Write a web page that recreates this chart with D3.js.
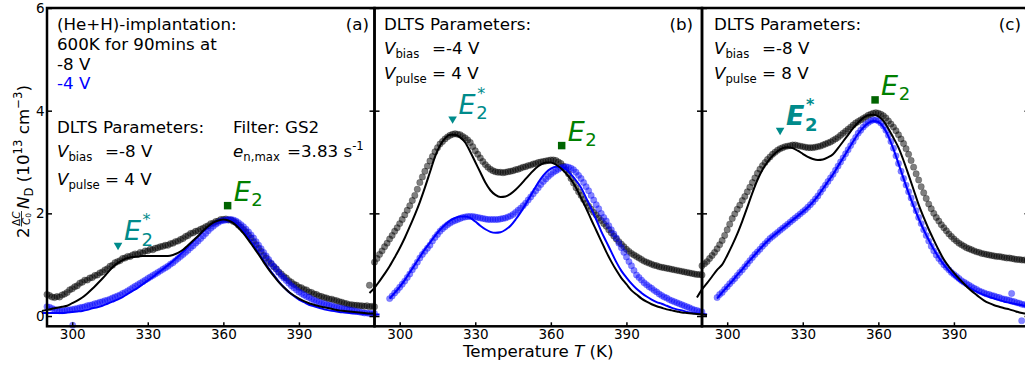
<!DOCTYPE html>
<html>
<head>
<meta charset="utf-8">
<script src="https://cdn.jsdelivr.net/npm/d3@7"></script>
<style>
  body { margin: 0; background: #fff; overflow: hidden; }
  svg { display: block; font-family: "DejaVu Sans", sans-serif; }
</style>
</head>
<body>
<svg id="chart" width="1025" height="365"></svg>
<script>
// ---- data ----
const panelLabels = ['(a)', '(b)', '(c)'];
const biasVolts = ['-8', '-4', '-8'];
const pulseVolts = ['4', '4', '8'];
const xTicks = [300, 330, 360, 390];
const yTicks = [0, 2, 4, 6];

const dotTemps = [
  290,291,292,293,294,295,296,297,298,299,
  300,301,302,303,304,305,306,307,308,309,
  310,311,312,313,314,315,316,317,318,319,
  320,321,322,323,324,325,326,327,328,329,
  330,331,332,333,334,335,336,337,338,339,
  340,341,342,343,344,345,346,347,348,349,
  350,351,352,353,354,355,356,357,358,359,
  360,361,362,363,364,365,366,367,368,369,
  370,371,372,373,374,375,376,377,378,379,
  380,381,382,383,384,385,386,387,388,389,
  390,391,392,393,394,395,396,397,398,399,
  400,401,402,403,404,405,406,407,408,409,
  410,411,412,413,414,415,416,417,418,419,420
];

const blackDotsA = [
  0.42,0.40,0.37,0.36,0.38,0.37,0.41,0.43,0.46,0.51,
  0.53,0.57,0.59,0.64,0.66,0.70,0.70,0.74,0.75,0.79,
  0.80,0.84,0.86,0.90,0.92,0.97,0.99,1.04,1.06,1.08,
  1.12,1.13,1.16,1.16,1.19,1.21,1.20,1.24,1.23,1.27,
  1.27,1.30,1.29,1.32,1.33,1.35,1.36,1.38,1.38,1.41,
  1.42,1.45,1.46,1.49,1.51,1.55,1.57,1.61,1.62,1.65,
  1.66,1.69,1.71,1.74,1.76,1.80,1.81,1.84,1.85,1.88,
  1.88,1.89,1.87,1.87,1.84,1.82,1.77,1.73,1.68,1.64,
  1.57,1.52,1.45,1.39,1.32,1.26,1.18,1.13,1.06,1.02,
  0.96,0.92,0.86,0.82,0.77,0.74,0.69,0.66,0.62,0.60,
  0.56,0.55,0.52,0.51,0.47,0.46,0.43,0.42,0.39,0.38,
  0.36,0.35,0.33,0.33,0.31,0.30,0.28,0.27,0.25,0.24,
  0.22,0.22,0.21,0.21,0.20,0.20,0.19,0.20,0.18,0.19,0.18
];
const blueDotsA = [
  0.18,0.17,0.15,0.13,0.11,0.10,0.10,0.11,0.12,0.12,
  0.13,0.14,0.15,0.16,0.17,0.18,0.20,0.21,0.22,0.24,
  0.25,0.27,0.28,0.30,0.31,0.33,0.35,0.37,0.39,0.41,
  0.44,0.46,0.49,0.52,0.55,0.58,0.61,0.64,0.67,0.70,
  0.73,0.76,0.79,0.82,0.85,0.88,0.91,0.94,0.97,1.01,
  1.04,1.08,1.12,1.16,1.20,1.24,1.28,1.33,1.37,1.42,
  1.46,1.51,1.56,1.61,1.66,1.71,1.75,1.79,1.82,1.85,
  1.86,1.87,1.88,1.88,1.87,1.85,1.82,1.78,1.74,1.69,
  1.64,1.58,1.52,1.45,1.38,1.31,1.24,1.17,1.10,1.03,
  0.97,0.91,0.85,0.79,0.74,0.69,0.64,0.59,0.55,0.51,
  0.47,0.44,0.41,0.38,0.36,0.33,0.31,0.29,0.27,0.25,
  0.24,0.22,0.21,0.20,0.18,0.17,0.16,0.15,0.14,0.13,
  0.12,0.11,0.10,0.09,0.08,0.07,0.06,0.06,0.05,0.05,0.05
];
const blackDotsB = [
  1.05,1.12,1.20,1.27,1.35,1.42,1.50,1.57,1.65,1.72,
  1.80,1.88,1.97,2.06,2.15,2.25,2.35,2.47,2.60,2.71,
  2.82,2.92,3.02,3.11,3.20,3.28,3.35,3.40,3.45,3.49,
  3.52,3.54,3.55,3.54,3.53,3.50,3.47,3.43,3.38,3.30,
  3.22,3.15,3.08,3.01,2.95,2.90,2.86,2.83,2.81,2.80,
  2.80,2.79,2.80,2.81,2.82,2.83,2.85,2.86,2.88,2.90,
  2.91,2.93,2.94,2.96,2.97,2.99,3.00,3.01,3.02,3.03,
  3.04,3.04,3.03,3.00,2.97,2.92,2.85,2.77,2.68,2.59,
  2.50,2.42,2.35,2.27,2.20,2.14,2.08,2.02,1.97,1.91,
  1.86,1.80,1.75,1.68,1.62,1.56,1.50,1.45,1.40,1.35,
  1.30,1.26,1.22,1.19,1.16,1.13,1.10,1.07,1.05,1.03,
  1.01,0.99,0.98,0.96,0.95,0.94,0.93,0.92,0.91,0.90,
  0.89,0.88,0.87,0.86,0.85,0.84,0.83,0.82,0.81,0.81,0.80
];
const blueDotsB = [
  null,null,null,null,null,null,0.34,0.39,0.45,0.50,
  0.56,0.62,0.68,0.75,0.82,0.90,0.97,1.05,1.13,1.20,
  1.26,1.32,1.38,1.46,1.53,1.59,1.65,1.70,1.74,1.78,
  1.81,1.84,1.86,1.88,1.90,1.92,1.93,1.94,1.94,1.94,
  1.93,1.92,1.91,1.90,1.89,1.88,1.88,1.88,1.88,1.88,
  1.89,1.90,1.91,1.93,1.95,1.98,2.02,2.06,2.10,2.15,
  2.20,2.26,2.32,2.38,2.44,2.50,2.56,2.62,2.67,2.72,
  2.76,2.80,2.83,2.86,2.89,2.90,2.91,2.90,2.88,2.85,
  2.80,2.74,2.68,2.60,2.52,2.44,2.35,2.26,2.17,2.09,
  2.00,1.92,1.85,1.76,1.68,1.60,1.52,1.42,1.33,1.24,
  1.15,1.06,0.98,0.89,0.80,0.75,0.70,0.65,0.61,0.57,
  0.54,0.50,0.47,0.43,0.40,0.37,0.35,0.32,0.30,0.28,
  0.26,0.24,0.22,0.20,0.18,0.16,0.14,0.12,0.11,0.09,0.08
];
const blackDotsC = [
  0.98,1.02,1.06,1.12,1.18,1.24,1.31,1.39,1.47,1.57,
  1.68,1.79,1.90,1.99,2.08,2.16,2.25,2.33,2.42,2.51,
  2.60,2.69,2.78,2.86,2.93,2.99,3.05,3.10,3.15,3.19,
  3.23,3.26,3.28,3.30,3.31,3.32,3.33,3.33,3.32,3.31,
  3.30,3.29,3.28,3.28,3.28,3.29,3.30,3.31,3.33,3.35,
  3.37,3.39,3.42,3.45,3.48,3.52,3.56,3.60,3.64,3.68,
  3.72,3.76,3.79,3.82,3.85,3.88,3.91,3.93,3.95,3.96,
  3.95,3.93,3.90,3.86,3.80,3.74,3.68,3.61,3.53,3.45,
  3.36,3.26,3.15,3.03,2.90,2.77,2.65,2.52,2.40,2.29,
  2.18,2.09,2.00,1.92,1.85,1.78,1.72,1.66,1.60,1.55,
  1.50,1.46,1.42,1.39,1.36,1.33,1.31,1.29,1.27,1.25,
  1.24,1.22,1.21,1.20,1.19,1.18,1.17,1.16,1.16,1.15,
  1.14,1.13,1.13,1.12,1.11,1.10,1.10,1.09,1.09,1.08,1.08
];
const blueDotsC = [
  null,null,null,null,null,null,0.36,0.42,0.46,0.52,
  0.57,0.63,0.68,0.73,0.79,0.85,0.90,0.96,1.02,1.08,
  1.14,1.20,1.25,1.30,1.36,1.41,1.46,1.51,1.55,1.59,
  1.63,1.67,1.71,1.75,1.79,1.83,1.87,1.91,1.95,1.99,
  2.03,2.07,2.12,2.17,2.22,2.28,2.34,2.41,2.48,2.55,
  2.62,2.69,2.76,2.84,2.92,3.00,3.08,3.16,3.24,3.32,
  3.40,3.48,3.56,3.62,3.68,3.73,3.77,3.80,3.82,3.82,
  3.80,3.76,3.70,3.62,3.52,3.40,3.27,3.12,2.97,2.82,
  2.68,2.55,2.42,2.30,2.18,2.05,1.92,1.80,1.68,1.57,
  1.46,1.36,1.27,1.19,1.12,1.06,1.00,0.95,0.90,0.85,
  0.81,0.77,0.73,0.69,0.66,0.63,0.60,0.57,0.54,0.52,
  0.49,0.47,0.45,0.43,0.42,0.40,0.39,0.37,0.36,0.34,
  0.33,0.32,0.31,0.29,0.28,0.26,0.25,0.23,0.22,0.21,0.20
];

// a few stray points
const blueStrayPanel = [0, 2, 2];
const blueStrayT = [300.2, 412.9, 416.9];
const blueStrayV = [-0.18, 0.44, -0.09];
const blackStrayPanel = [0];
const blackStrayT = [418.0];
const blackStrayV = [0.60];

// fitted curves
const fitTemps = [
  288,290,292,294,296,298,300,302,304,306,
  308,310,312,314,316,318,320,322,324,326,
  328,330,332,334,336,338,340,342,344,346,
  348,350,352,354,356,358,360,362,364,366,
  368,370,372,374,376,378,380,382,384,386,
  388,390,392,394,396,398,400,402,404,406,
  408,410,412,414,416,418,420,422
];
const blackFitA = [
  0.10,0.12,0.14,0.16,0.18,0.20,0.25,0.30,0.36,0.44,
  0.53,0.63,0.73,0.84,0.95,1.03,1.09,1.13,1.15,1.16,
  1.17,1.17,1.17,1.17,1.17,1.17,1.19,1.23,1.29,1.38,
  1.47,1.56,1.66,1.75,1.82,1.86,1.88,1.86,1.81,1.72,
  1.61,1.48,1.34,1.20,1.05,0.91,0.78,0.66,0.56,0.47,
  0.40,0.34,0.29,0.25,0.22,0.19,0.17,0.15,0.13,0.11,
  0.10,0.09,0.08,0.07,0.06,0.05,0.05,null
];
const blueFitA = [
  0.06,0.06,0.06,0.06,0.06,0.07,0.08,0.09,0.10,0.12,
  0.15,0.17,0.20,0.24,0.28,0.32,0.37,0.43,0.49,0.55,
  0.62,0.69,0.76,0.84,0.91,0.99,1.07,1.16,1.25,1.35,
  1.45,1.55,1.65,1.74,1.81,1.86,1.88,1.87,1.83,1.75,
  1.65,1.52,1.38,1.23,1.08,0.93,0.80,0.67,0.56,0.47,
  0.39,0.32,0.27,0.22,0.19,0.16,0.13,0.11,0.10,0.08,
  0.07,0.06,0.05,0.05,0.04,0.04,0.03,0.03
];
const blackFitB = [
  0.45,0.55,0.68,0.82,0.97,1.14,1.32,1.52,1.74,1.97,
  2.22,2.50,2.80,3.10,3.32,3.46,3.53,3.53,3.48,3.38,
  3.20,3.00,2.80,2.60,2.45,2.36,2.32,2.33,2.38,2.46,
  2.56,2.67,2.78,2.88,2.95,2.99,2.99,2.95,2.88,2.78,
  2.66,2.50,2.30,2.10,1.88,1.67,1.46,1.25,1.06,0.89,
  0.74,0.62,0.50,0.42,0.34,0.28,0.23,0.19,0.16,0.13,
  0.11,0.09,0.07,0.06,0.05,0.04,0.03,0.02
];
const blueFitB = [
  null,null,null,null,0.34,0.45,0.57,0.70,0.85,1.00,
  1.15,1.30,1.43,1.56,1.68,1.78,1.86,1.91,1.94,1.94,
  1.91,1.84,1.76,1.69,1.64,1.62,1.63,1.68,1.76,1.88,
  2.02,2.18,2.35,2.52,2.67,2.79,2.87,2.91,2.91,2.86,
  2.76,2.64,2.50,2.30,2.10,1.88,1.65,1.45,1.25,1.05,
  0.88,0.75,0.63,0.53,0.45,0.38,0.32,0.27,0.24,0.20,
  0.16,0.13,0.11,0.08,0.06,0.05,0.04,0.03
];
const blackFitC = [
  0.36,0.52,0.64,0.77,0.90,1.00,1.18,1.38,1.60,1.85,
  2.12,2.40,2.65,2.85,3.00,3.12,3.21,3.27,3.29,3.27,
  3.22,3.16,3.10,3.06,3.04,3.05,3.09,3.15,3.27,3.40,
  3.53,3.66,3.77,3.86,3.91,3.92,3.89,3.80,3.65,3.47,
  3.28,3.03,2.75,2.46,2.17,1.92,1.69,1.48,1.28,1.10,
  0.96,0.84,0.73,0.63,0.53,0.45,0.37,0.30,0.25,0.21,
  0.18,0.15,0.13,0.10,0.07,0.05,0.04,0.03
];
const blueFitC = [
  null,null,null,null,0.34,0.46,0.57,0.68,0.80,0.91,
  1.03,1.14,1.25,1.36,1.46,1.55,1.63,1.71,1.79,1.87,
  1.95,2.03,2.12,2.22,2.34,2.48,2.62,2.76,2.92,3.08,
  3.24,3.40,3.55,3.67,3.76,3.80,3.78,3.68,3.50,3.25,
  2.97,2.68,2.40,2.14,1.90,1.68,1.48,1.30,1.14,1.00,
  0.88,0.78,0.69,0.62,0.56,0.50,0.45,0.41,0.37,0.34,
  0.31,0.28,0.26,0.24,0.22,0.20,0.19,null
];

// trap level markers
const e2StarT = [318.2, 321.0, 321.0];
const e2StarV = [1.38, 3.84, 3.62];
const e2T = [361.7, 364.3, 358.7];
const e2V = [2.15, 3.32, 4.21];

// ---- layout ----
const svg = d3.select('#chart');
const panelLeft = [47, 374.5, 702];
const panelWidth = 327.5;
const plotTop = 8, plotBottom = 326.3;
const textInset = [10, 9.5, 12];
const tagInset = [5.5, 9, 8.5];

const y = d3.scaleLinear().domain([-0.2, 6]).range([plotBottom, plotTop]);

const panels = [
  { blackDots: blackDotsA, blueDots: blueDotsA, blackFit: blackFitA, blueFit: blueFitA },
  { blackDots: blackDotsB, blueDots: blueDotsB, blackFit: blackFitB, blueFit: blueFitB },
  { blackDots: blackDotsC, blueDots: blueDotsC, blackFit: blackFitC, blueFit: blueFitC }
];

const pairs = (ts, vs) => ts.map((t, i) => ({ t, v: vs[i] })).filter(d => d.v !== null);

const dataLayer = svg.append('g');
const frameLayer = svg.append('g');
const textLayer = svg.append('g');

// E_2 / E_2^* label
function levelLabel(g, px, py, star, bold, color) {
  const ex = px + 6, ey = py - 5;
  const t = g.append('text')
    .attr('x', ex).attr('y', ey)
    .attr('fill', color)
    .attr('font-weight', bold ? 'bold' : 'normal');
  const e = t.append('tspan').attr('font-size', 27).attr('font-style', 'italic').text('E');
  const w = e.node().getComputedTextLength();
  t.append('tspan').attr('font-size', 18).attr('dx', 0.5).attr('dy', 5.5).text('2');
  if (star) {
    g.append('text')
      .attr('x', ex + w + 1.5).attr('y', ey - 15)
      .attr('fill', color)
      .attr('font-size', 16)
      .attr('font-weight', bold ? 'bold' : 'normal')
      .text('*');
  }
}

panels.forEach((p, i) => {
  const x = d3.scaleLinear().domain([290, 420]).range([panelLeft[i], panelLeft[i] + panelWidth]);
  p.x = x;
  const g = dataLayer.append('g');

  // measured points
  g.append('g')
    .selectAll('circle')
    .data(pairs(dotTemps, p.blackDots).concat(
      blackStrayPanel.map((k, j) => k === i ? { t: blackStrayT[j], v: blackStrayV[j] } : null).filter(d => d)))
    .enter()
    .append('circle')
    .attr('cx', d => x(d.t))
    .attr('cy', d => y(d.v))
    .attr('r', 3.2)
    .attr('fill', '#000')
    .attr('fill-opacity', 0.5)
    .attr('stroke', '#000')
    .attr('stroke-opacity', 0.25)
    .attr('stroke-width', 0.8);

  g.append('g')
    .selectAll('circle')
    .data(pairs(dotTemps, p.blueDots).concat(
      blueStrayPanel.map((k, j) => k === i ? { t: blueStrayT[j], v: blueStrayV[j] } : null).filter(d => d)))
    .enter()
    .append('circle')
    .attr('cx', d => x(d.t))
    .attr('cy', d => y(d.v))
    .attr('r', 3.2)
    .attr('fill', '#0000ff')
    .attr('fill-opacity', 0.48)
    .attr('stroke', '#0000ff')
    .attr('stroke-opacity', 0.2)
    .attr('stroke-width', 0.8);

  // fits
  const line = d3.line()
    .x(d => x(d.t))
    .y(d => y(d.v))
    .curve(d3.curveMonotoneX);

  g.append('path')
    .datum(pairs(fitTemps, p.blueFit))
    .attr('fill', 'none')
    .attr('stroke', '#0000ff')
    .attr('stroke-width', 2)
    .attr('d', line);

  g.append('path')
    .datum(pairs(fitTemps, p.blackFit))
    .attr('fill', 'none')
    .attr('stroke', '#000')
    .attr('stroke-width', 2)
    .attr('d', line);

  // markers
  const sx = x(e2StarT[i]), sy = y(e2StarV[i]);
  g.append('path')
    .attr('d', d3.symbol(d3.symbolTriangle, 32)())
    .attr('transform', `translate(${sx},${sy}) rotate(180)`)
    .attr('fill', '#008b8b');
  levelLabel(textLayer, sx, sy, true, i === 2, '#008b8b');

  const qx = x(e2T[i]), qy = y(e2V[i]);
  g.append('path')
    .attr('d', d3.symbol(d3.symbolSquare, 56)())
    .attr('transform', `translate(${qx},${qy})`)
    .attr('fill', '#006400');
  levelLabel(textLayer, qx, qy, false, false, '#008000');
});

// ---- frames and axes ----
panels.forEach((p, i) => {
  const x = p.x;
  const l = panelLeft[i], r = panelLeft[i] + panelWidth;

  const xAxis = frameLayer.append('g')
    .attr('transform', `translate(0,${plotBottom})`)
    .call(d3.axisBottom(x).tickValues(xTicks).tickSizeInner(-4).tickSizeOuter(0).tickPadding(3.5));
  xAxis.select('.domain').remove();

  const yLeft = frameLayer.append('g')
    .attr('transform', `translate(${l},0)`)
    .call(d3.axisLeft(y).tickValues(yTicks).tickSizeInner(-5).tickSizeOuter(0).tickPadding(2.5)
      .tickFormat(i === 0 ? d3.format('d') : () => ''));
  yLeft.select('.domain').remove();

  const yRight = frameLayer.append('g')
    .attr('transform', `translate(${r},0)`)
    .call(d3.axisRight(y).tickValues(yTicks).tickSizeInner(-5).tickSizeOuter(0).tickFormat(() => ''));
  yRight.select('.domain').remove();

  frameLayer.append('rect')
    .attr('x', l).attr('y', plotTop)
    .attr('width', panelWidth).attr('height', plotBottom - plotTop)
    .attr('fill', 'none')
    .attr('stroke', '#000')
    .attr('stroke-width', 2.5);
});

frameLayer.selectAll('.tick line').attr('stroke', '#000').attr('stroke-width', 1.5);
frameLayer.selectAll('.tick text')
  .attr('font-family', '"DejaVu Sans", sans-serif')
  .attr('font-size', 13.5)
  .attr('fill', '#000');

// ---- texts ----
const fs = 16.7, subFs = 11.7;
function plain(x, yb, txt, color) {
  return textLayer.append('text').attr('x', x).attr('y', yb)
    .attr('font-size', fs).attr('fill', color || '#000').text(txt);
}
function param(x, yb, sym, sub, rest) {
  const t = textLayer.append('text').attr('x', x).attr('y', yb).attr('font-size', fs);
  t.append('tspan').attr('font-style', 'italic').text(sym);
  t.append('tspan').attr('font-size', subFs).attr('dy', 3.5).text(sub);
  t.append('tspan').attr('x', x + 48).attr('dy', -3.5).text(rest);
}

// panel (a)
const ax0 = panelLeft[0] + textInset[0];
plain(ax0, 30, '(He+H)-implantation:');
plain(ax0, 50, '600K for 90mins at');
plain(ax0, 70, '-8 V');
plain(ax0, 89, '-4 V', '#0000ff');
plain(ax0, 133, 'DLTS Parameters:');
param(ax0, 157, 'V', 'bias', '=' + biasVolts[0] + ' V');
param(ax0, 185, 'V', 'pulse', '= ' + pulseVolts[0] + ' V');
plain(233, 133, 'Filter: GS2');
{
  const t = textLayer.append('text').attr('x', 233).attr('y', 157).attr('font-size', fs);
  t.append('tspan').attr('font-style', 'italic').text('e');
  t.append('tspan').attr('font-size', subFs).attr('dy', 3.5).text('n,max');
  t.append('tspan').attr('x', 287).attr('dy', -3.5).text('=3.83 s');
  t.append('tspan').attr('font-size', subFs).attr('dy', -7).text('-1');
}

// panels (b), (c)
[1, 2].forEach(i => {
  const x0 = panelLeft[i] + textInset[i];
  plain(x0, 30, 'DLTS Parameters:');
  param(x0, 54, 'V', 'bias', '=' + biasVolts[i] + ' V');
  param(x0, 79, 'V', 'pulse', '= ' + pulseVolts[i] + ' V');
});

panelLabels.forEach((lab, i) => {
  plain(panelLeft[i] + panelWidth - tagInset[i], 30, lab).attr('text-anchor', 'end');
});

// x label
{
  const t = textLayer.append('text')
    .attr('x', panelLeft[1] + panelWidth / 2).attr('y', 357)
    .attr('font-size', fs).attr('text-anchor', 'middle');
  t.append('tspan').text('Temperature ');
  t.append('tspan').attr('font-style', 'italic').text('T');
  t.append('tspan').text(' (K)');
}

// y label
{
  const g = textLayer.append('g').attr('transform', 'translate(29,238) rotate(-90)');
  const t = g.append('text').attr('x', 0).attr('y', 0).attr('font-size', fs);
  t.append('tspan').text('2');
  t.append('tspan').attr('x', 29).attr('font-style', 'italic').text('N');
  t.append('tspan').attr('font-size', subFs).attr('dy', 4).text('D');
  t.append('tspan').attr('dy', -4).text('\u00a0(10');
  t.append('tspan').attr('font-size', subFs).attr('dy', -7).text('13');
  t.append('tspan').attr('dy', 7).text('\u00a0cm');
  t.append('tspan').attr('font-size', subFs).attr('dy', -7).text('\u22123');
  t.append('tspan').attr('dy', 7).text(')');
  // fraction dC / C0
  const num = g.append('text').attr('x', 12).attr('y', -9.5).attr('font-size', 10.5);
  num.append('tspan').text('\u0394');
  num.append('tspan').attr('font-style', 'italic').text('C');
  g.append('line')
    .attr('x1', 11.5).attr('x2', 27)
    .attr('y1', -7.5).attr('y2', -7.5)
    .attr('stroke', '#000').attr('stroke-width', 0.8);
  const den = g.append('text').attr('x', 13).attr('y', 0.5).attr('font-size', 10.5);
  den.append('tspan').attr('font-style', 'italic').text('C');
  den.append('tspan').attr('font-size', 7.5).attr('dy', 1.5).text('0');
}
</script>
</body>
</html>
